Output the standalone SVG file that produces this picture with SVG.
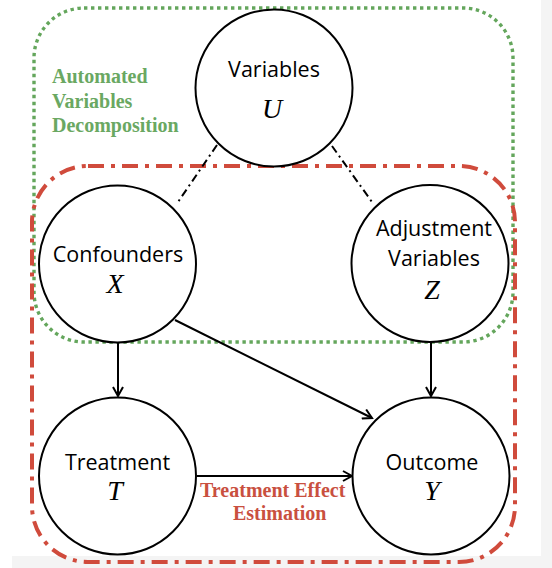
<svg xmlns="http://www.w3.org/2000/svg" width="552" height="568" viewBox="0 0 552 568">
  <style>
    .node { fill: #ffffff; stroke: #000000; stroke-width: 2; }
    .lbl { font-family: "Open Sans", "Liberation Sans", sans-serif; font-size: 21.5px; fill: #000000; text-anchor: middle; }
    .sym { font-family: "Liberation Serif", "DejaVu Serif", serif; font-style: italic; font-size: 28px; fill: #000000; text-anchor: middle; }
    .edge { stroke: #000000; stroke-width: 2; fill: none; }
    .latent { stroke: #000000; stroke-width: 2; fill: none; stroke-dasharray: 8 4 2 4; }
    .green-box { fill: none; stroke: #64a65c; stroke-width: 3.4; stroke-dasharray: 3.4 3.6; }
    .red-box { fill: none; stroke: #d04b3c; stroke-width: 4; stroke-dasharray: 16 7 4 7; }
    .green-txt { font-family: "Liberation Serif", "Times New Roman", serif; font-weight: bold; font-size: 20px; fill: #6aa862; }
    .red-txt { font-family: "Liberation Serif", "Times New Roman", serif; font-weight: bold; font-size: 20px; fill: #c9503f; }
  </style>
  <defs>
    <marker id="arrow" viewBox="0 0 12 12" refX="10" refY="6" markerWidth="12" markerHeight="12" markerUnits="userSpaceOnUse" orient="auto">
      <path d="M1,1 L10,6 L1,11" fill="none" stroke="#000000" stroke-width="2"/>
    </marker>
  </defs>

  <!-- page background with light border band -->
  <rect x="0" y="0" width="552" height="568" fill="#ffffff"/>
  <rect x="541" y="0" width="11" height="568" fill="#f4f4f4"/>
  <rect x="12" y="556" width="540" height="12" fill="#f4f4f4"/>

  <!-- grouping regions -->
  <g id="region-decomposition">
    <rect class="green-box" x="34" y="8" width="479" height="334" rx="50" ry="50"/>
    <text class="green-txt" x="52" y="83">Automated</text>
    <text class="green-txt" x="52" y="108">Variables</text>
    <text class="green-txt" x="52" y="132">Decomposition</text>
  </g>
  <g id="region-estimation">
    <rect class="red-box" x="32" y="166" width="483" height="396" rx="56" ry="56"/>
    <text class="red-txt" x="200" y="497">Treatment Effect</text>
    <text class="red-txt" x="233" y="520">Estimation</text>
  </g>

  <!-- connectors -->
  <g id="connectors">
    <line class="latent" x1="217" y1="145" x2="178" y2="202"/>
    <line class="latent" x1="332" y1="146" x2="372" y2="202"/>
    <line class="edge" x1="118" y1="342" x2="118" y2="396" marker-end="url(#arrow)"/>
    <line class="edge" x1="431" y1="342" x2="431" y2="396" marker-end="url(#arrow)"/>
    <line class="edge" x1="175" y1="320" x2="372" y2="418" marker-end="url(#arrow)"/>
    <line class="edge" x1="197" y1="476" x2="352" y2="476" marker-end="url(#arrow)"/>
  </g>

  <!-- nodes -->
  <g id="node-U">
    <circle class="node" cx="274" cy="88" r="78.5"/>
    <text class="lbl" x="274" y="77">Variables</text>
    <text class="sym" x="272" y="118">U</text>
  </g>
  <g id="node-X">
    <circle class="node" cx="117.5" cy="264" r="78.5"/>
    <text class="lbl" x="118" y="262">Confounders</text>
    <text class="sym" x="115" y="293">X</text>
  </g>
  <g id="node-Z">
    <circle class="node" cx="430" cy="263.5" r="78.5"/>
    <text class="lbl" x="434" y="236">Adjustment</text>
    <text class="lbl" x="434" y="266">Variables</text>
    <text class="sym" x="432" y="299">Z</text>
  </g>
  <g id="node-T">
    <circle class="node" cx="117.5" cy="476" r="78.5"/>
    <text class="lbl" x="117.5" y="470">Treatment</text>
    <text class="sym" x="115" y="500">T</text>
  </g>
  <g id="node-Y">
    <circle class="node" cx="431" cy="476" r="78.5"/>
    <text class="lbl" x="432" y="470">Outcome</text>
    <text class="sym" x="432" y="500">Y</text>
  </g>
</svg>
